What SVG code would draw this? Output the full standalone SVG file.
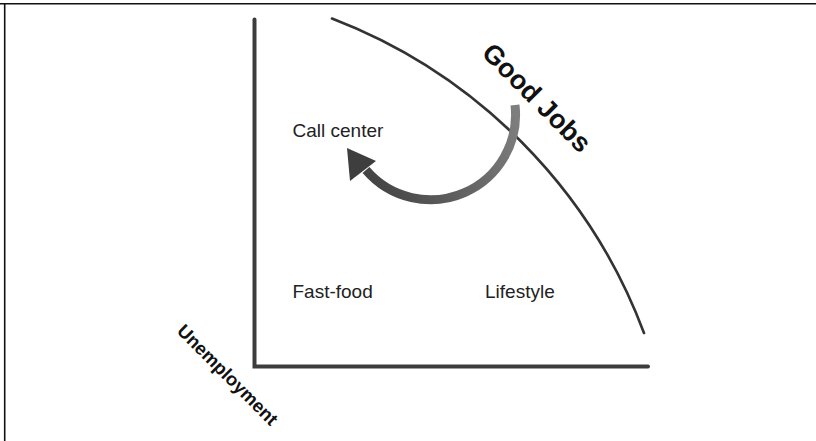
<svg xmlns="http://www.w3.org/2000/svg" width="816" height="441" viewBox="0 0 816 441">
<style>
.lbl{font-family:"Liberation Sans",Arial,sans-serif;font-size:19px;fill:#222}
.bold{font-family:"Liberation Sans",Arial,sans-serif;font-weight:bold;fill:#111}
.axis{stroke:#3c3c3c;stroke-width:4;fill:none;stroke-linecap:round}
</style>
<defs>
<linearGradient id="ag" gradientUnits="userSpaceOnUse" x1="350" y1="170" x2="515" y2="110">
<stop offset="0" stop-color="#3e3e3e"/>
<stop offset="1" stop-color="#7e7e7e"/>
</linearGradient>
</defs>
<rect width="816" height="441" fill="#fff"/>
<g id="frame" stroke="#111" stroke-width="1.6" fill="none">
<line x1="0" y1="3.7" x2="816" y2="3.7"/>
<line x1="4.7" y1="3" x2="4.7" y2="441"/>
</g>
<g id="connectors">
<path class="axis" d="M254.5,19.5 L254.5,366.5 L648,366.5"/>
<path d="M332,18.5 A539,539 0 0 1 644,333" fill="none" stroke="#333" stroke-width="2.6" stroke-linecap="round"/>
<path d="M515,105 A85,85 0 0 1 366,170" fill="none" stroke="url(#ag)" stroke-width="9"/>
<polygon points="347,148 350,181 376,161" fill="#3e3e3e"/>
</g>
<g id="call-center"><text class="lbl" x="292.5" y="137">Call center</text></g>
<g id="fast-food"><text class="lbl" x="292.5" y="298">Fast-food</text></g>
<g id="lifestyle"><text class="lbl" x="485" y="298">Lifestyle</text></g>
<g id="good-jobs"><text class="bold" font-size="27" text-anchor="middle" transform="translate(537,97.5) rotate(45)" y="9.5">Good Jobs</text></g>
<g id="unemployment"><text class="bold" font-size="18.5" text-anchor="middle" transform="translate(226.5,376) rotate(45)" y="4.7">Unemployment</text></g>
</svg>
